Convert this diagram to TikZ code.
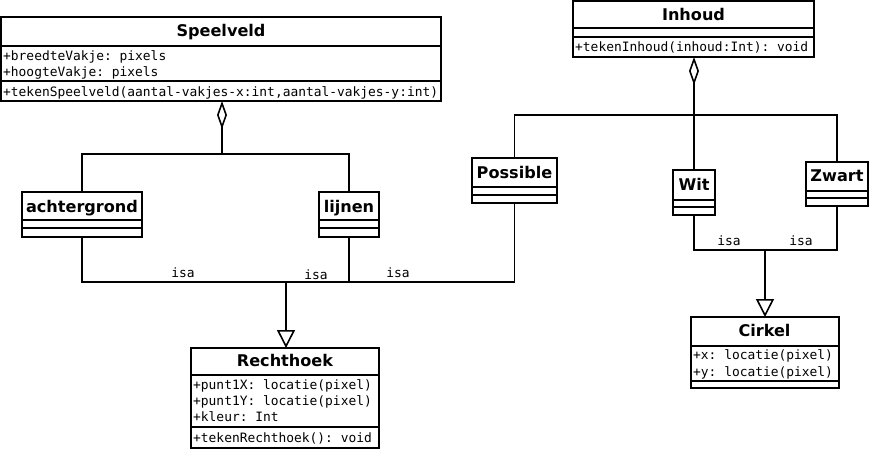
\documentclass[tikz,border=0pt]{standalone}
\usepackage{fontspec}
\setsansfont{DejaVu Sans}
\setmonofont{DejaVu Sans Mono}
\usetikzlibrary{arrows.meta}
\newcommand\ttlfont{\fontsize{16.1}{18}\selectfont\sffamily\bfseries}
\newcommand\mnfont{\fontsize{12.9}{16}\selectfont\ttfamily}
\tikzset{
  classbox/.style={draw, line width=1.9pt, inner sep=0pt, outer sep=0pt, anchor=north west, fill=white},
  ttl/.style={font=\ttlfont, anchor=base, inner sep=0pt},
  mono/.style={font=\mnfont, anchor=base west, inner sep=0pt},
  sep/.style={line width=1.9pt},
  conn/.style={line width=1.9pt},
  aggr/.style={conn, -{Diamond[open, width=10pt, length=28pt, line width=1.6pt, fill=white]}},
  gen/.style={conn, -{Triangle[open, width=18pt, length=18pt, line width=1.6pt, fill=white]}},
  isalbl/.style={font=\mnfont, anchor=base, inner sep=0pt}
}
\begin{document}
\begin{tikzpicture}[x=1pt,y=-1pt]
\useasboundingbox (0,0) rectangle (871,451);
% ---------- Speelveld
\node[classbox, minimum width=440pt, minimum height=84pt] (speelveld) at (1,17) {};
\node[ttl] (speelveldT) at (221,36.5) {Speelveld};
\draw[sep] (1,46) -- (441,46);
\draw[sep] (1,81) -- (441,81);
\node[mono] (sv1) at (3,60) {+breedteVakje: pixels};
\node[mono] (sv2) at (3,76) {+hoogteVakje: pixels};
\node[mono] (sv3) at (3,96) {+tekenSpeelveld(aantal-vakjes-x:int,aantal-vakjes-y:int)};
% ---------- Inhoud
\node[classbox, minimum width=241pt, minimum height=56pt] (inhoud) at (573,1) {};
\node[ttl] (inhoudT) at (693.5,20.5) {Inhoud};
\draw[sep] (573,28) -- (814,28);
\draw[sep] (573,37) -- (814,37);
\node[mono] (ih1) at (575,51) {+tekenInhoud(inhoud:Int): void};
% ---------- achtergrond
\node[classbox, minimum width=120pt, minimum height=45pt] (achtergrond) at (22,192) {};
\node[ttl] (achtergrondT) at (82,212.5) {achtergrond};
\draw[sep] (22,220) -- (142,220);
\draw[sep] (22,228) -- (142,228);
% ---------- lijnen
\node[classbox, minimum width=60pt, minimum height=45pt] (lijnen) at (319,192) {};
\node[ttl] (lijnenT) at (349,212.5) {lijnen};
\draw[sep] (319,220) -- (379,220);
\draw[sep] (319,228) -- (379,228);
% ---------- Possible
\node[classbox, minimum width=85pt, minimum height=45pt] (possible) at (472,158) {};
\node[ttl] (possibleT) at (514.5,178) {Possible};
\draw[sep] (472,187) -- (557,187);
\draw[sep] (472,195) -- (557,195);
% ---------- Wit
\node[classbox, minimum width=42pt, minimum height=45pt] (wit) at (673,170) {};
\node[ttl] (witT) at (694,190) {Wit};
\draw[sep] (673,200) -- (715,200);
\draw[sep] (673,207) -- (715,207);
% ---------- Zwart
\node[classbox, minimum width=62pt, minimum height=44pt] (zwart) at (806,162) {};
\node[ttl] (zwartT) at (837,181) {Zwart};
\draw[sep] (806,191) -- (868,191);
\draw[sep] (806,198) -- (868,198);
% ---------- Rechthoek
\node[classbox, minimum width=188pt, minimum height=100pt] (rechthoek) at (191,348) {};
\node[ttl] (rechthoekT) at (285,366.5) {Rechthoek};
\draw[sep] (191,375) -- (379,375);
\draw[sep] (191,427) -- (379,427);
\node[mono] (rh1) at (193,389) {+punt1X: locatie(pixel)};
\node[mono] (rh2) at (193,405) {+punt1Y: locatie(pixel)};
\node[mono] (rh3) at (193,421) {+kleur: Int};
\node[mono] (rh4) at (193,442) {+tekenRechthoek(): void};
% ---------- Cirkel
\node[classbox, minimum width=148pt, minimum height=71pt] (cirkel) at (691,317) {};
\node[ttl] (cirkelT) at (764.5,336.5) {Cirkel};
\draw[sep] (691,346) -- (839,346);
\draw[sep] (691,381) -- (839,381);
\node[mono] (ck1) at (693,359) {+x: locatie(pixel)};
\node[mono] (ck2) at (693,376) {+y: locatie(pixel)};
% ---------- connectors
\coordinate (sJ) at (222,154);
\draw[conn] (achtergrond.north) |- (sJ) -| (lijnen.north);
\draw[aggr] (sJ) -- (sJ |- speelveld.south);
\coordinate (iJ) at (694,115);
\draw[conn] (possible.north) |- (iJ) -| (zwart.north);
\draw[aggr] (wit.north) -- (wit.north |- inhoud.south);
\coordinate (rJ) at (286,282);
\draw[conn] (achtergrond.south) |- (rJ) -| (possible.south);
\draw[conn] (lijnen.south) -- (lijnen.south |- rJ);
\draw[gen] (rJ) -- (rJ |- rechthoek.north);
\coordinate (cJ) at (765,250);
\draw[conn] (wit.south) |- (cJ) -| (zwart.south);
\draw[gen] (cJ) -- (cJ |- cirkel.north);
% ---------- isa labels
\node[isalbl] (isa1) at (183,277) {isa};
\node[isalbl] (isa2) at (316,279) {isa};
\node[isalbl] (isa3) at (398,277) {isa};
\node[isalbl] (isa4) at (729,245) {isa};
\node[isalbl] (isa5) at (801,245) {isa};
\end{tikzpicture}
\end{document}
